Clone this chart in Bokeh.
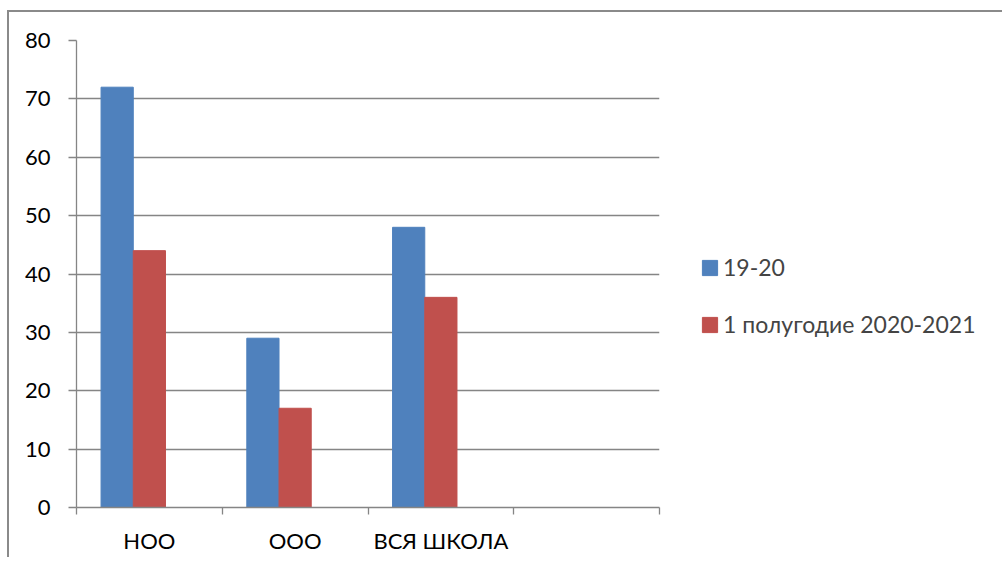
from bokeh.plotting import figure
from bokeh.models import FixedTicker, Range1d, Legend, LegendItem, ColumnDataSource
from bokeh.embed import file_html
from bokeh.resources import INLINE

# ---- data ----
categories = ["НОО", "ООО", "ВСЯ ШКОЛА", ""]
series_names = ["19-20", "1 полугодие 2020-2021"]
values_1920 = [72, 29, 48, None]
values_2021 = [44, 17, 36, None]
y_ticks = [0, 10, 20, 30, 40, 50, 60, 70, 80]

colors = ["#4F81BD", "#C0504D"]
FONT = "Lato"
FS = "22px"
BAR_W = 0.221
GRID = "#858585"

n = len(categories)
x_centers = [i + 0.5 for i in range(n)]

p = figure(
    output_backend="svg", toolbar_location=None,
    frame_width=583, frame_height=467,
    min_border_left=67, min_border_top=28, min_border_bottom=50, min_border_right=320,
    x_range=Range1d(0, n), y_range=Range1d(0, 80),
)
p.styles = {"border-top": "2px solid #8a8a8a", "border-left": "2px solid #8a8a8a",
            "margin-left": "7px", "margin-top": "10px"}
p.outline_line_color = None
p.background_fill_color = "white"
p.border_fill_color = "white"

# blue bar one bar-width left of the category centre, red bar centred
src1 = ColumnDataSource(dict(x=[c - BAR_W for c in x_centers], top=values_1920))
src2 = ColumnDataSource(dict(x=[c for c in x_centers], top=values_2021))
r1 = p.vbar(x="x", top="top", width=BAR_W, source=src1, fill_color=colors[0], line_color=colors[0])
r2 = p.vbar(x="x", top="top", width=BAR_W, source=src2, fill_color=colors[1], line_color=colors[1])

# x axis
p.xaxis.ticker = FixedTicker(ticks=x_centers, minor_ticks=[float(i) for i in range(n + 1)])
p.xaxis.major_label_overrides = {c: lab for c, lab in zip(x_centers, categories)}
p.xaxis.major_tick_out = 0
p.xaxis.major_tick_in = 0
p.xaxis.minor_tick_out = 7
p.xaxis.minor_tick_in = 0
p.xaxis.minor_tick_line_color = GRID
p.xaxis.minor_tick_line_width = 1.3
p.xaxis.axis_line_color = GRID
p.xaxis.axis_line_width = 1.3
p.xaxis.major_label_text_font = FONT
p.xaxis.major_label_text_font_size = FS
p.xaxis.major_label_text_color = "black"
p.xaxis.major_label_standoff = 12
p.xgrid.visible = False

# y axis
p.yaxis.ticker = FixedTicker(ticks=y_ticks)
p.yaxis.major_tick_out = 8
p.yaxis.major_tick_in = 0
p.yaxis.minor_tick_line_color = None
p.yaxis.major_tick_line_color = GRID
p.yaxis.major_tick_line_width = 1.3
p.yaxis.axis_line_color = GRID
p.yaxis.axis_line_width = 1.3
p.yaxis.major_label_text_font = FONT
p.yaxis.major_label_text_font_size = FS
p.yaxis.major_label_text_color = "black"
p.yaxis.major_label_standoff = 18
p.ygrid.grid_line_color = GRID
p.ygrid.grid_line_width = 1.3

legend = Legend(
    items=[LegendItem(label=series_names[0], renderers=[r1]),
           LegendItem(label=series_names[1], renderers=[r2])],
    location=(41, 169), orientation="vertical",
    glyph_width=19, glyph_height=19, label_standoff=4,
    label_text_font=FONT, label_text_font_size="23px", label_height=24,
    spacing=29, padding=0, margin=0,
    border_line_color=None, background_fill_alpha=0,
)
p.add_layout(legend, "right")

open("out.html", "w").write(file_html(p, INLINE))
